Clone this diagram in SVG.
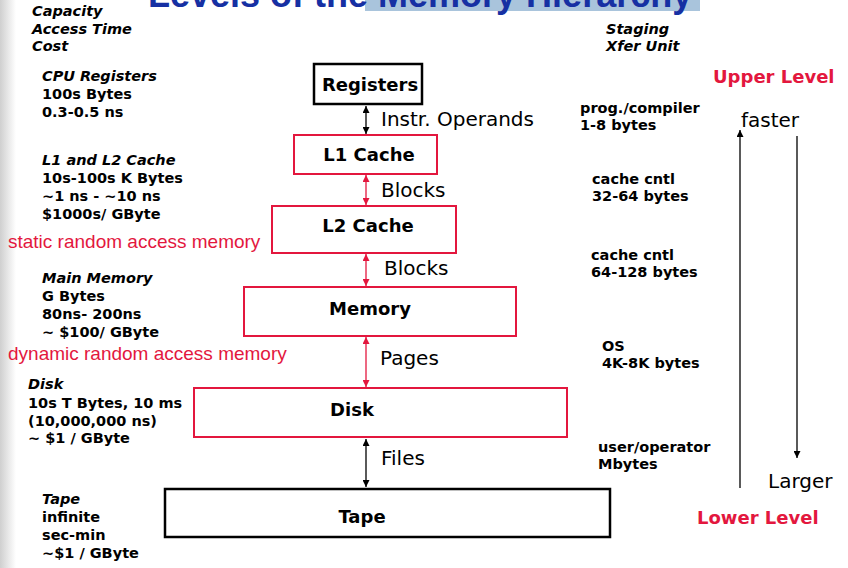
<svg xmlns="http://www.w3.org/2000/svg" width="848" height="568" viewBox="0 0 848 568">
<defs>
<linearGradient id="edge" x1="0" y1="0" x2="1" y2="0">
<stop offset="0" stop-color="#cfcfcf"/>
<stop offset="1" stop-color="#ffffff"/>
</linearGradient>
<marker id="ab" viewBox="0 0 10 10" refX="10" refY="5" markerWidth="7" markerHeight="7" markerUnits="userSpaceOnUse" orient="auto-start-reverse">
<path d="M0,0 L10,5 L0,10 z" fill="#000"/>
</marker>
<marker id="ar" viewBox="0 0 10 10" refX="10" refY="5" markerWidth="7" markerHeight="7" markerUnits="userSpaceOnUse" orient="auto-start-reverse">
<path d="M0,0 L10,5 L0,10 z" fill="#e3173e"/>
</marker>
<style>
.t{font-family:"DejaVu Sans","Liberation Sans",sans-serif;fill:#000}
.lab{font-size:14.5px;font-weight:bold}
.hd{font-size:14.5px;font-weight:bold;font-style:italic}
.box{font-size:18px;font-weight:bold;text-anchor:middle}
.cl{font-size:20px}
.red{fill:#e3173e}
.ram{font-family:"Liberation Sans",Arial,sans-serif;font-size:19px;fill:#e3173e}
.rb{fill:#fff;stroke:#e3173e;stroke-width:2}
.bb{fill:#fff;stroke:#000;stroke-width:2.5}
.cb{stroke:#000;stroke-width:1.3;fill:none}
.cr{stroke:#e3173e;stroke-width:1.3;fill:none}
</style>
</defs>
<rect width="848" height="568" fill="#fff"/>
<rect x="0" y="0" width="16" height="568" fill="url(#edge)"/>

<g id="title">
<rect x="365" y="0" width="335" height="11" fill="#a9c4dc"/>
<text x="148" y="7" font-family="Liberation Sans,Arial,sans-serif" font-size="36" font-weight="bold" fill="#1630a3">Levels of the Memory Hierarchy</text>
</g>

<g id="header-left" class="t hd">
<text x="32" y="16">Capacity</text>
<text x="32" y="34">Access Time</text>
<text x="32" y="51">Cost</text>
</g>
<g id="header-right" class="t hd">
<text x="606" y="34">Staging</text>
<text x="606" y="51">Xfer Unit</text>
</g>

<g id="left-notes" class="t lab">
<text x="42" y="81" font-style="italic">CPU Registers</text>
<text x="42" y="99">100s Bytes</text>
<text x="42" y="117">0.3-0.5 ns</text>
<text x="42" y="165" font-style="italic">L1 and L2 Cache</text>
<text x="42" y="183">10s-100s K Bytes</text>
<text x="42" y="201">~1 ns - ~10 ns</text>
<text x="42" y="219">$1000s/ GByte</text>
<text x="42" y="283" font-style="italic">Main Memory</text>
<text x="42" y="301">G Bytes</text>
<text x="42" y="319">80ns- 200ns</text>
<text x="42" y="337">~ $100/ GByte</text>
<text x="28" y="389" font-style="italic">Disk</text>
<text x="28" y="408">10s T Bytes, 10 ms</text>
<text x="28" y="426">(10,000,000 ns)</text>
<text x="28" y="443">~ $1 / GByte</text>
<text x="42" y="504" font-style="italic">Tape</text>
<text x="42" y="522">infinite</text>
<text x="42" y="540">sec-min</text>
<text x="42" y="558">~$1 / GByte</text>
</g>
<text class="ram" x="8" y="248">static random access memory</text>
<text class="ram" x="8" y="360">dynamic random access memory</text>

<g id="right-notes" class="t lab">
<text x="580" y="113">prog./compiler</text>
<text x="580" y="130">1-8 bytes</text>
<text x="592" y="184">cache cntl</text>
<text x="592" y="201">32-64 bytes</text>
<text x="591" y="260">cache cntl</text>
<text x="591" y="277">64-128 bytes</text>
<text x="602" y="351">OS</text>
<text x="602" y="368">4K-8K bytes</text>
<text x="598" y="452">user/operator</text>
<text x="598" y="469">Mbytes</text>
</g>

<g id="registers"><rect class="bb" x="314" y="64" width="108" height="40"/><text class="t box" x="370" y="91">Registers</text></g>
<g id="l1"><rect class="rb" x="294" y="135" width="143" height="39"/><text class="t box" x="369" y="161">L1 Cache</text></g>
<g id="l2"><rect class="rb" x="272" y="206" width="184" height="47"/><text class="t box" x="368" y="232">L2 Cache</text></g>
<g id="memory"><rect class="rb" x="244" y="287" width="272" height="49"/><text class="t box" x="370" y="315">Memory</text></g>
<g id="disk"><rect class="rb" x="194" y="388" width="373" height="49"/><text class="t box" x="352" y="416">Disk</text></g>
<g id="tape"><rect class="bb" x="165" y="489" width="445" height="48"/><text class="t box" x="362" y="523">Tape</text></g>

<g id="connectors">
<line class="cb" x1="366" y1="106" x2="366" y2="134" marker-start="url(#ab)" marker-end="url(#ab)"/>
<line class="cr" x1="366" y1="175" x2="366" y2="205" marker-start="url(#ar)" marker-end="url(#ar)"/>
<line class="cr" x1="366" y1="254" x2="366" y2="286" marker-start="url(#ar)" marker-end="url(#ar)"/>
<line class="cr" x1="366" y1="337" x2="366" y2="387" marker-start="url(#ar)" marker-end="url(#ar)"/>
<line class="cb" x1="366" y1="439" x2="366" y2="487" marker-start="url(#ab)" marker-end="url(#ab)"/>
<line class="cb" x1="740" y1="488" x2="740" y2="130" marker-end="url(#ab)"/>
<line class="cb" x1="797" y1="136" x2="797" y2="458" marker-end="url(#ab)"/>
</g>
<g id="connector-labels" class="t cl">
<text x="381" y="126">Instr. Operands</text>
<text x="381" y="197">Blocks</text>
<text x="384" y="275">Blocks</text>
<text x="380" y="365">Pages</text>
<text x="381" y="465">Files</text>
<text x="741" y="127">faster</text>
<text x="768" y="488">Larger</text>
</g>
<g id="levels" class="t">
<text class="red" x="713" y="83" font-size="18" font-weight="bold">Upper Level</text>
<text class="red" x="697" y="524" font-size="18" font-weight="bold">Lower Level</text>
</g>
</svg>
